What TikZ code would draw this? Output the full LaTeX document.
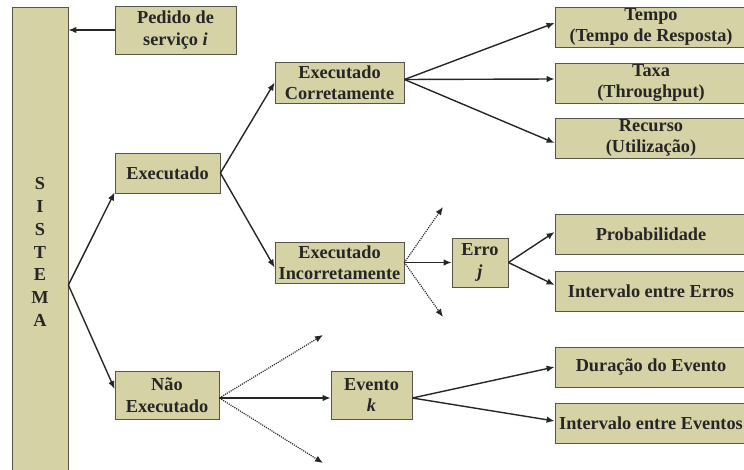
\documentclass[tikz,border=0pt]{standalone}
\usepackage{fontspec}
\setmainfont{Liberation Serif}
\usetikzlibrary{arrows.meta,calc,shadows}
\definecolor{boxfill}{HTML}{D5D3A6}
\definecolor{boxline}{HTML}{55554A}
\definecolor{ink}{HTML}{262626}
\begin{document}
\begin{tikzpicture}[x=1pt,y=-1pt,
  box/.style={draw=boxline, line width=0.8pt, fill=boxfill, inner sep=0pt, align=center,
    font=\fontsize{18.3}{21.5}\selectfont\bfseries, text=ink,
    drop shadow={shadow xshift=1.3pt, shadow yshift=-1.3pt, fill=black!55, opacity=1}},
  arr/.style={draw=ink, line width=1.4pt, -{Latex[length=8pt,width=6.5pt]}},
  dots/.style={draw=ink, line width=1.2pt, dash pattern=on 1.1pt off 1.1pt, -{Latex[length=8pt,width=6.5pt]}}
]
\useasboundingbox (0,0) rectangle (744,470);
\clip (0,0) rectangle (744,470);
\fill[white] (0,0) rectangle (744,470);

% system bar
\node[box, minimum width=56pt, minimum height=490pt, font=\fontsize{18.3}{22.8}\selectfont\bfseries] (sistema) at (40,252) {S\\I\\S\\T\\E\\M\\A};

% nodes
\node[box, minimum width=121pt, minimum height=48pt] (pedido) at (175.5,30) {Pedido de\\servi\c{c}o \textit{i}};
\node[box, minimum width=105pt, minimum height=40pt] (exec) at (167.5,173) {Executado};
\node[box, minimum width=129pt, minimum height=41pt] (corr) at (339.5,82.5) {Executado\\Corretamente};
\node[box, minimum width=129pt, minimum height=41pt] (inc) at (339.5,262.5) {Executado\\Incorretamente};
\node[box, minimum width=192pt, minimum height=40pt] (tempo) at (651,27) {Tempo\\(Tempo de Resposta)};
\node[box, minimum width=192pt, minimum height=40pt] (taxa) at (651,83) {Taxa\\(Throughput)};
\node[box, minimum width=192pt, minimum height=40pt] (recurso) at (651,138) {Recurso\\(Utiliza\c{c}\~ao)};
\node[box, minimum width=56pt, minimum height=49pt] (erro) at (480,262.5) {Erro\\\textit{j}};
\node[box, minimum width=192pt, minimum height=40pt] (prob) at (651,234) {Probabilidade};
\node[box, minimum width=192pt, minimum height=40pt] (interr) at (651,291) {Intervalo entre Erros};
\node[box, minimum width=104pt, minimum height=48pt] (nao) at (167,395) {N\~ao\\Executado};
\node[box, minimum width=81pt, minimum height=48pt] (evento) at (371.5,395) {Evento\\\textit{k}};
\node[box, minimum width=192pt, minimum height=40pt] (dur) at (651,367) {Dura\c{c}\~ao do Evento};
\node[box, minimum width=192pt, minimum height=40pt] (intev) at (651,423) {Intervalo entre Eventos};

% helper coordinates
\coordinate (sfork) at ($(sistema.east)+(0,33)$);
\coordinate (incup) at (443,207);
\coordinate (incdn) at (443,317);
\coordinate (naoup) at (323,335);
\coordinate (naodn) at (323,463);

% connectors
\draw[arr] (pedido.west) -- (pedido.west -| sistema.east);
\draw[arr] (sfork) -- ($(exec.south west)+(0,-1)$);
\draw[arr] (sfork) -- ($(nao.west)+(0,-6)$);

\draw[arr] (exec.east) -- (corr.west);
\draw[arr] (exec.east) -- ($(inc.west)+(0,5)$);

\draw[arr] ($(corr.east)+(0,-3)$) -- ($(tempo.west)+(0,-4)$);
\draw[arr] ($(corr.east)+(0,-3)$) -- ($(taxa.west)+(0,-4)$);
\draw[arr] ($(corr.east)+(0,-3)$) -- ($(recurso.west)+(0,5)$);

\draw[arr] (inc.east) -- (erro.west);
\draw[dots] (inc.east) -- (incup);
\draw[dots] (inc.east) -- (incdn);

\draw[arr] (erro.east) -- ($(prob.west)+(0,-2)$);
\draw[arr] (erro.east) -- ($(interr.west)+(0,-6)$);

\draw[arr] ($(nao.east)+(0,3)$) -- ($(evento.west)+(0,3)$);
\draw[dots] ($(nao.east)+(0,3)$) -- (naoup);
\draw[dots] ($(nao.east)+(0,3)$) -- (naodn);

\draw[arr] ($(evento.east)+(0,3)$) -- (dur.west);
\draw[arr] ($(evento.east)+(0,3)$) -- ($(intev.west)+(0,-2)$);
\end{tikzpicture}
\end{document}
